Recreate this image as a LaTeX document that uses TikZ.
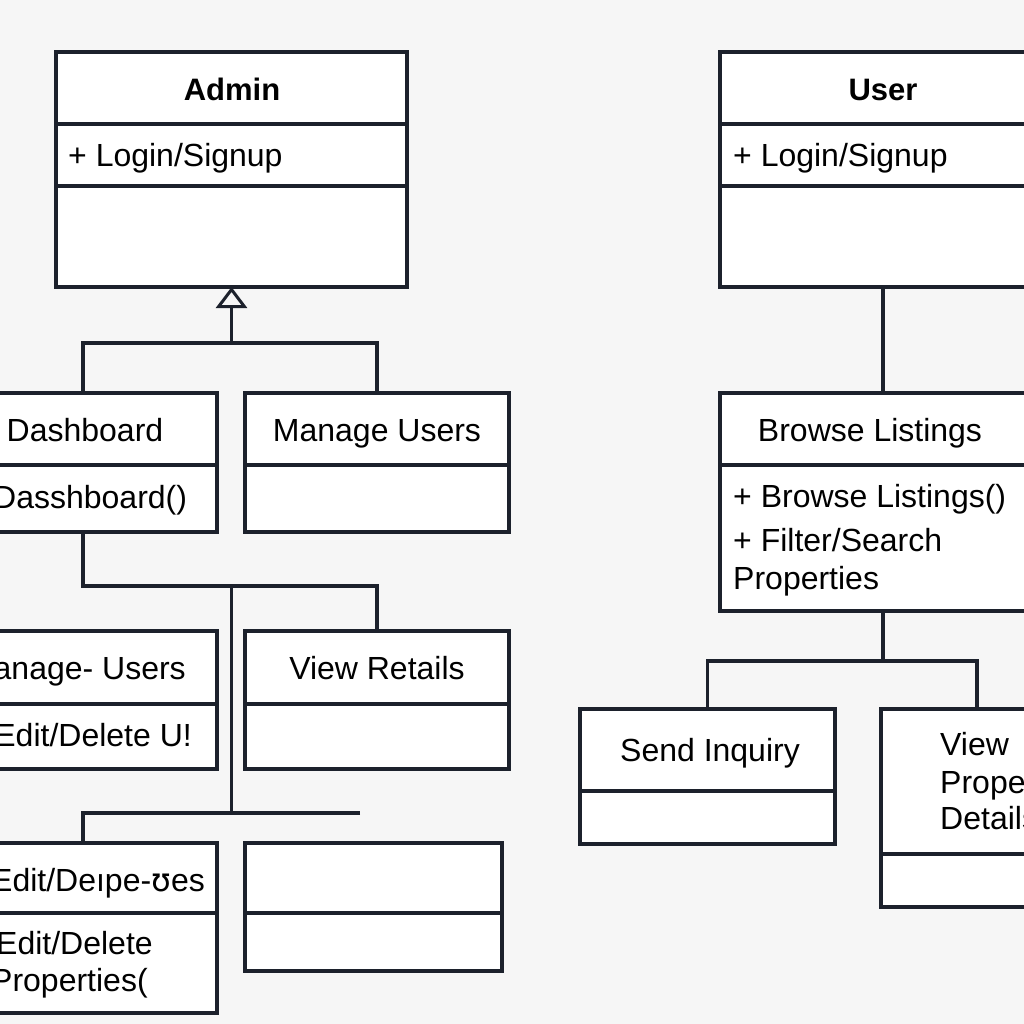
\documentclass[tikz,border=0pt]{standalone}
\usepackage{fontspec}
\setmainfont{Liberation Sans}
\newfontfamily\ipafont{DejaVu Sans}
\usetikzlibrary{fit,arrows.meta}
\definecolor{bg}{HTML}{F6F6F6}
\definecolor{ln}{HTML}{1C212C}
\tikzset{
  comp/.style={draw=ln, fill=white, line width=3.2pt, inner sep=0pt, outer sep=0pt},
  conn/.style={draw=ln, line width=3.2pt},
  txt/.style={inner sep=0pt, text=black, font=\fontsize{32}{38}\selectfont},
  ttl/.style={txt, font=\fontsize{31}{38}\selectfont\bfseries},
}
\begin{document}
\begin{tikzpicture}[x=1pt,y=-1pt]
\useasboundingbox (0,0) rectangle (1024,1024);
\fill[bg] (0,0) rectangle (1024,1024);
\clip (0,0) rectangle (1024,1024);

% ---------- Admin ----------
\node[comp, fit={(56,52)(407,124)}] (adminhdr) {};
\node[comp, fit={(56,124)(407,186)}] (adminattr) {};
\node[comp, fit={(56,186)(407,287)}] (adminops) {};
\node[ttl, anchor=base] (admint) at (232,100.5) {Admin};
\node[txt, anchor=base west] (admina) at (68,166.5) {+ Login/Signup};

% ---------- Dashboard ----------
\node[comp, fit={(-51,393)(217,465)}] (dashhdr) {};
\node[comp, fit={(-51,465)(217,532)}] (dashops) {};
\node[txt, anchor=base] (dasht) at (85,441.5) {Dashboard};
\node[txt, anchor=base west] (dasho) at (-7,508.5) {Dasshboard()};

% ---------- Manage Users ----------
\node[comp, fit={(245,393)(509,465)}] (muhdr) {};
\node[comp, fit={(245,465)(509,532)}] (muops) {};
\node[txt, anchor=base] (mut) at (377,441.5) {Manage Users};

% ---------- Manage- Users (left) ----------
\node[comp, fit={(-51,631)(217,704)}] (mu2hdr) {};
\node[comp, fit={(-51,704)(217,769)}] (mu2ops) {};
\node[txt, anchor=base east] (mu2t) at (186,679.5) {Manage- Users};
\node[txt, anchor=base east] (mu2o) at (192,746.5) {Edit/Delete U!};

% ---------- View Retails ----------
\node[comp, fit={(245,631)(509,704)}] (vrhdr) {};
\node[comp, fit={(245,704)(509,769)}] (vrops) {};
\node[txt, anchor=base] (vrt) at (377,679.5) {View Retails};

% ---------- Edit/Delete (bottom left) ----------
\node[comp, fit={(-51,843)(217,913)}] (elhdr) {};
\node[comp, fit={(-51,913)(217,1013)}] (elops) {};
\node[txt, anchor=base east] (elt) at (205,891) {Edit/Deıpe-{\ipafont ʊ}es};
\node[txt, anchor=base west] (elo1) at (-4,954) {Edit/Delete};
\node[txt, anchor=base west] (elo2) at (-9,991) {Properties(};

% ---------- empty box (bottom right) ----------
\node[comp, fit={(245,843)(502,913)}] (erhdr) {};
\node[comp, fit={(245,913)(502,971)}] (erops) {};

% ---------- Admin connectors ----------
\coordinate (hj) at (231.5,343);
\coordinate (j2) at (231.5,586);
\coordinate (j3) at (231.5,813);
\coordinate (jend) at (360,813);
\draw[conn] (dashhdr.north) |- (hj) -| (muhdr.north);
\draw[conn, -{Triangle[open, width=31pt, length=21pt, line width=3pt]}] (hj) -- (adminops.south);
\draw[conn] (dashops.south) |- (j2) -| (vrhdr.north);
\draw[conn] (j2) -- (j3);
\draw[conn] (jend) -- (j3) -| (elhdr.north);

% ---------- User ----------
\node[comp, fit={(720,52)(1046,124)}] (userhdr) {};
\node[comp, fit={(720,124)(1046,186)}] (userattr) {};
\node[comp, fit={(720,186)(1046,287)}] (userops) {};
\node[ttl, anchor=base] (usert) at (883,100.5) {User};
\node[txt, anchor=base west] (usera) at (733,166.5) {+ Login/Signup};

% ---------- Browse Listings ----------
\node[comp, fit={(720,393)(1046,465)}] (brhdr) {};
\node[comp, fit={(720,465)(1046,611)}] (brops) {};
\node[txt, anchor=base] (brt) at (870,441.5) {Browse Listings};
\node[txt, anchor=base west] (bro1) at (733,507.5) {+ Browse Listings()};
\node[txt, anchor=base west] (bro2) at (733,551.5) {+ Filter/Search};
\node[txt, anchor=base west] (bro3) at (733,589.5) {Properties};

% ---------- Send Inquiry ----------
\node[comp, fit={(580,709)(835,791)}] (sihdr) {};
\node[comp, fit={(580,791)(835,844)}] (siops) {};
\node[txt, anchor=base] (sit) at (710,761) {Send Inquiry};

% ---------- View Property Details ----------
\node[comp, fit={(881,709)(1073,854)}] (vphdr) {};
\node[comp, fit={(881,854)(1073,907)}] (vpops) {};
\node[txt, anchor=base west] (vpt1) at (940,755.5) {View};
\node[txt, anchor=base west] (vpt2) at (940,793) {Property};
\node[txt, anchor=base west] (vpt3) at (940,829.5) {Details};

% ---------- User connectors ----------
\coordinate (bj) at (883,661);
\draw[conn] (userops.south) -- (brhdr.north);
\draw[conn] (brops.south) -- (bj);
\draw[conn] (sihdr.north) |- (bj) -| (vphdr.north);
\end{tikzpicture}
\end{document}
